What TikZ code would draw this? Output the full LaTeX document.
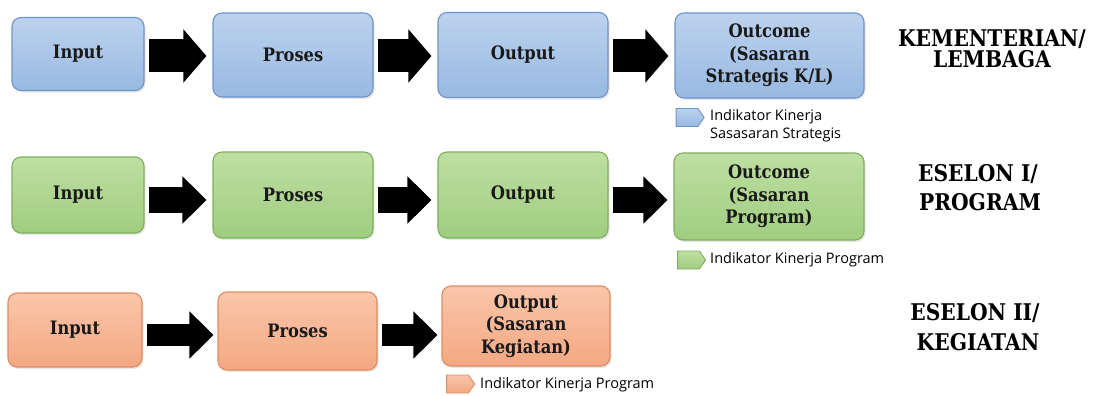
\documentclass[tikz,border=0pt]{standalone}
\usepackage{fontspec}
\setmainfont{DejaVu Serif}
\newfontfamily\boxfont[FakeStretch=0.88]{DejaVu Serif}
\newfontfamily\legfont{Open Sans}
\usetikzlibrary{arrows.meta,shadows,shapes.symbols,calc}

\definecolor{bluetop}{RGB}{188,210,238}
\definecolor{bluebot}{RGB}{152,185,225}
\definecolor{blueline}{RGB}{110,148,200}
\definecolor{greentop}{RGB}{190,223,162}
\definecolor{greenbot}{RGB}{160,205,128}
\definecolor{greenline}{RGB}{125,176,94}
\definecolor{orangetop}{RGB}{250,198,170}
\definecolor{orangebot}{RGB}{243,168,130}
\definecolor{orangeline}{RGB}{222,140,100}

\tikzset{
  box/.style={rounded corners=9pt, line width=1.1pt, align=center, inner sep=0pt,
    font=\boxfont\bfseries\fontsize{18.5}{22.5}\selectfont, text=black!90,
    drop shadow={opacity=0.18, shadow xshift=1.5pt, shadow yshift=-2pt}},
  bluebox/.style={box, draw=blueline, top color=bluetop, bottom color=bluebot},
  greenbox/.style={box, draw=greenline, top color=greentop, bottom color=greenbot},
  orangebox/.style={box, draw=orangeline, top color=orangetop, bottom color=orangebot},
  flowA/.style={line width=33pt, -{Triangle[length=23pt,width=52pt]}, shorten <=4pt, shorten >=6pt},
  flowB/.style={line width=26pt, -{Triangle[length=24pt,width=46pt]}, shorten <=4pt, shorten >=6pt},
  flowC/.style={line width=22pt, -{Triangle[length=24pt,width=46pt]}, shorten <=4pt, shorten >=4pt},
  level/.style={font=\boxfont\bfseries\fontsize{23}{23}\selectfont, anchor=base, inner sep=0pt},
  tag/.style={shape=signal, signal to=east, signal pointer angle=110, line width=0.9pt,
    minimum width=28pt, minimum height=18pt, inner sep=0pt},
  legtext/.style={font=\legfont\fontsize{14.5}{18}\selectfont, anchor=west, inner sep=0pt, align=left},
}

\begin{document}
\begin{tikzpicture}[x=1pt,y=-1pt]
\useasboundingbox[fill=white] (0,0) rectangle (1095,396);

% Kementerian / Lembaga
\node[bluebox, minimum width=132pt, minimum height=73pt] (in1) at (78,54) {Input};
\node[bluebox, minimum width=160pt, minimum height=84pt] (pr1) at (293,55) {Proses};
\node[bluebox, minimum width=170pt, minimum height=85pt] (ou1) at (523,55) {Output};
\node[bluebox, minimum width=189pt, minimum height=85pt] (oc1) at (769.5,55.5)
  {Outcome\\(Sasaran\\Strategis K/L)};
\coordinate (r1) at (0,56);
\draw[flowA] (in1.east |- r1) -- (pr1.west |- r1);
\draw[flowA] (pr1.east |- r1) -- (ou1.west |- r1);
\draw[flowA] (ou1.east |- r1) -- (oc1.west |- r1);
\node[tag, draw=blueline, top color=bluetop, bottom color=bluebot] (lg1) at (687,117.5) {};
\node[legtext] (lt1) at (710,126) {Indikator Kinerja\\Sasasaran Strategis};
\node[level] (lv1a) at (992,46.5) {KEMENTERIAN/};
\node[level] (lv1b) at (992,67.5) {LEMBAGA};

% Eselon I / Program
\node[greenbox, minimum width=132pt, minimum height=76pt] (in2) at (78,195) {Input};
\node[greenbox, minimum width=160pt, minimum height=86pt] (pr2) at (293,195) {Proses};
\node[greenbox, minimum width=170pt, minimum height=86pt] (ou2) at (523,195) {Output};
\node[greenbox, minimum width=190pt, minimum height=87pt] (oc2) at (769,196.5)
  {Outcome\\(Sasaran\\Program)};
\coordinate (r2) at (0,200);
\draw[flowB] (in2.east |- r2) -- (pr2.west |- r2);
\draw[flowB] (pr2.east |- r2) -- (ou2.west |- r2);
\draw[flowB] (ou2.east |- r2) -- (oc2.west |- r2);
\node[tag, draw=greenline, top color=greentop, bottom color=greenbot] (lg2) at (688.5,260) {};
\node[legtext] (lt2) at (710,260) {Indikator Kinerja Program};
\node[level] (lv2a) at (978,181.5) {ESELON I/};
\node[level] (lv2b) at (980,210.5) {PROGRAM};

% Eselon II / Kegiatan
\node[orangebox, minimum width=134pt, minimum height=74pt] (in3) at (75,330) {Input};
\node[orangebox, minimum width=159pt, minimum height=78pt] (pr3) at (297.5,331) {Proses};
\node[orangebox, minimum width=168pt, minimum height=80pt] (ou3) at (526,326)
  {Output\\(Sasaran\\Kegiatan)};
\coordinate (r3) at (0,335);
\draw[flowC] (in3.east |- r3) -- (pr3.west |- r3);
\draw[flowC] (pr3.east |- r3) -- (ou3.west |- r3);
\node[tag, draw=orangeline, top color=orangetop, bottom color=orangebot] (lg3) at (457.5,384) {};
\node[legtext] (lt3) at (480,385) {Indikator Kinerja Program};
\node[level] (lv3a) at (975,320.5) {ESELON II/};
\node[level] (lv3b) at (978,350.5) {KEGIATAN};
\end{tikzpicture}
\end{document}
